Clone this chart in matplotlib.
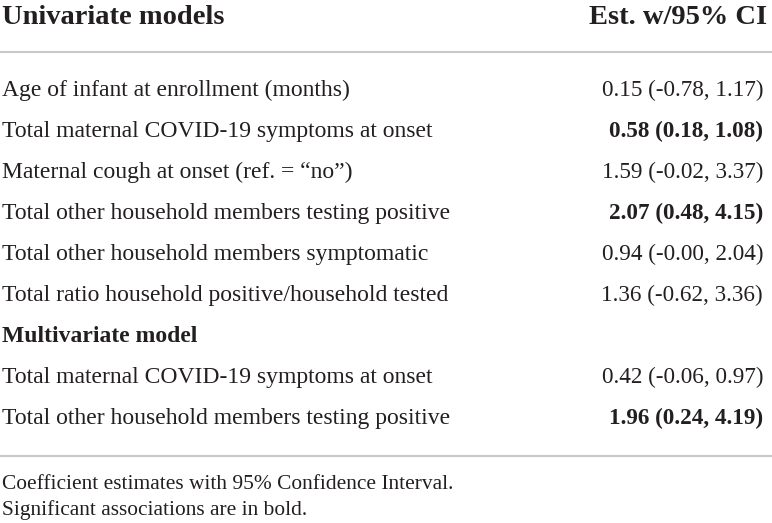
import matplotlib.pyplot as plt

# table content
header_left = "Univariate models"
header_right = "Est. w/95% CI"

uni_labels = [
    "Age of infant at enrollment (months)",
    "Total maternal COVID-19 symptoms at onset",
    "Maternal cough at onset (ref. = \u201cno\u201d)",
    "Total other household members testing positive",
    "Total other household members symptomatic",
    "Total ratio household positive/household tested",
]
uni_est = [0.15, 0.58, 1.59, 2.07, 0.94, 1.36]
uni_lo = [-0.78, 0.18, -0.02, 0.48, -0.00, -0.62]
uni_hi = [1.17, 1.08, 3.37, 4.15, 2.04, 3.36]
uni_sig = [False, True, False, True, False, False]

multi_title = "Multivariate model"
multi_labels = [
    "Total maternal COVID-19 symptoms at onset",
    "Total other household members testing positive",
]
multi_est = [0.42, 1.96]
multi_lo = [-0.06, 0.24]
multi_hi = [0.97, 4.19]
multi_sig = [False, True]

footnotes = [
    "Coefficient estimates with 95% Confidence Interval.",
    "Significant associations are in bold.",
]

FONT = "Liberation Serif"
TXT = "#231f20"
RULE = "#c8c8c8"
FS_L = 17
FS_R = 16.7


def fmt(e, lo, hi):
    return "%.2f (%.2f, %.2f)" % (e, lo, hi)


fig = plt.figure(figsize=(7.72, 5.23), dpi=100)
ax = fig.add_axes([0, 0, 1, 1])
ax.set_xlim(0, 772)
ax.set_ylim(523, 0)
ax.axis("off")

xl, xr = 2, 763

ax.text(xl, 14, header_left, fontsize=20.5, fontweight="bold", family=FONT,
        color=TXT, va="center_baseline", ha="left")
ax.text(767, 14, header_right, fontsize=20.5, fontweight="bold", family=FONT,
        color=TXT, va="center_baseline", ha="right")
ax.plot([0, 772], [52, 52], color=RULE, lw=1.5, solid_capstyle="butt")

y = 88
step = 41
for lab, e, lo, hi, s in zip(uni_labels, uni_est, uni_lo, uni_hi, uni_sig):
    ax.text(xl, y, lab, fontsize=FS_L, family=FONT, color=TXT, va="center_baseline")
    ax.text(xr, y, fmt(e, lo, hi), fontsize=FS_R, family=FONT, color=TXT,
            va="center_baseline", ha="right", fontweight="bold" if s else "normal")
    y += step

ax.text(xl, y, multi_title, fontsize=FS_L, family=FONT, color=TXT,
        va="center_baseline", fontweight="bold")
y += step
for lab, e, lo, hi, s in zip(multi_labels, multi_est, multi_lo, multi_hi, multi_sig):
    ax.text(xl, y, lab, fontsize=FS_L, family=FONT, color=TXT, va="center_baseline")
    ax.text(xr, y, fmt(e, lo, hi), fontsize=FS_R, family=FONT, color=TXT,
            va="center_baseline", ha="right", fontweight="bold" if s else "normal")
    y += step

ax.plot([0, 772], [456, 456], color=RULE, lw=1.5, solid_capstyle="butt")

ax.text(xl, 482, footnotes[0], fontsize=15.4, family=FONT, color=TXT, va="center_baseline")
ax.text(xl, 508, footnotes[1], fontsize=15.4, family=FONT, color=TXT, va="center_baseline")

fig.savefig("out.png", dpi=100)
